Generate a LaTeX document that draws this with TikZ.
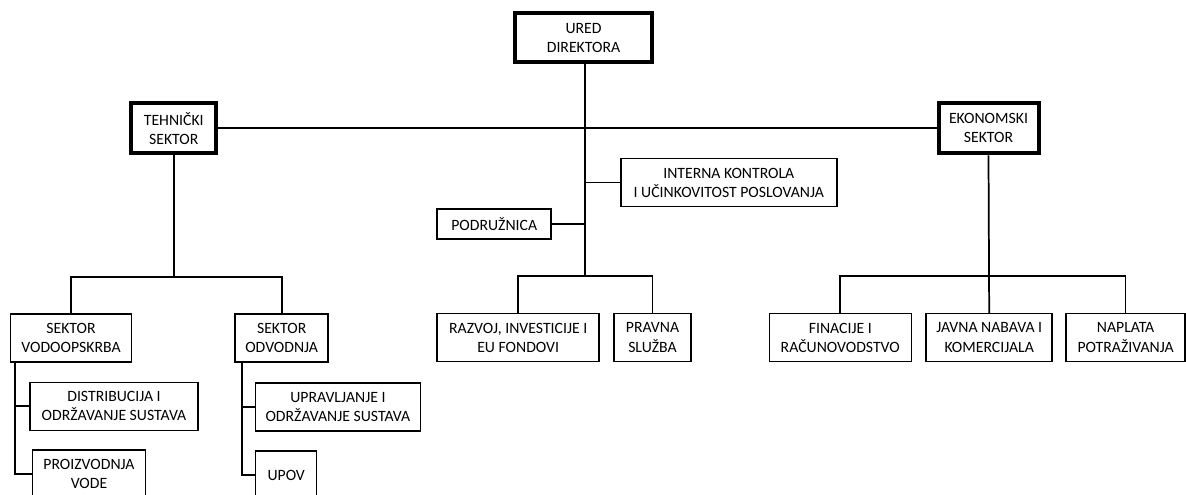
\documentclass[tikz,border=0pt]{standalone}
\usepackage{fontspec}
\setmainfont{Carlito}
\usepackage{tikz}
\tikzstyle{mybox}=[draw,line width=1.1pt,align=center,inner sep=0pt,minimum height=48*0.75pt]
\tikzstyle{mymainbox}=[mybox,line width=3pt,minimum height=49*0.75pt]
\tikzstyle{myline}=[line width=1.3pt]
\tikzstyle{mytrunk}=[line width=2pt]

\begin{document}
\begin{tikzpicture}[x=0.75pt,y=-0.75pt,font=\fontsize{11.8}{14.3}\selectfont]
		\clip (0,0) rectangle (1186,495);
		\fill[white] (0,0) rectangle (1186,495);

		\node[mymainbox,minimum width=137*0.75pt] (ured) at (583.5,37.8) {URED\\DIREKTORA};
		\node[mymainbox,minimum width=85*0.75pt,minimum height=50*0.75pt] (teh) at (173.8,128.3) {TEHNIČKI\\SEKTOR};
		\node[mymainbox,minimum width=100*0.75pt,minimum height=50*0.75pt] (eko) at (988.5,128.3) {EKONOMSKI\\SEKTOR};

		\node[mybox,minimum width=216*0.75pt] (interna) at (728.8,182.5) {INTERNA KONTROLA\\I UČINKOVITOST POSLOVANJA};
		\node[mybox,minimum width=114*0.75pt,minimum height=30*0.75pt] (podr) at (494.2,224.2) {PODRUŽNICA};

		\node[mybox,minimum width=121*0.75pt] (vodo) at (71,338) {SEKTOR\\VODOOPSKRBA};
		\node[mybox,minimum width=93*0.75pt] (odv) at (281.7,338) {SEKTOR\\ODVODNJA};
		\node[mybox,minimum width=168*0.75pt] (distr) at (114,406.3) {DISTRIBUCIJA I\\ODRŽAVANJE SUSTAVA};
		\node[mybox,minimum width=113*0.75pt] (proiz) at (89,474) {PROIZVODNJA\\VODE};
		\node[mybox,minimum width=165*0.75pt] (upr) at (337.9,407) {UPRAVLJANJE I\\ODRŽAVANJE SUSTAVA};
		\node[mybox,minimum width=61*0.75pt] (upov) at (286.2,475) {UPOV};

		\node[mybox,minimum width=162*0.75pt] (razvoj) at (518.2,337.5) {RAZVOJ, INVESTICIJE I\\EU FONDOVI};
		\node[mybox,minimum width=77*0.75pt] (pravna) at (652.5,337.5) {PRAVNA\\SLUŽBA};

		\node[mybox,minimum width=142*0.75pt] (fin) at (840.3,337.5) {FINACIJE I\\RAČUNOVODSTVO};
		\node[mybox,minimum width=126*0.75pt] (javna) at (989.2,337.5) {JAVNA NABAVA I\\KOMERCIJALA};
		\node[mybox,minimum width=119*0.75pt] (naplata) at (1125.6,337.5) {NAPLATA\\POTRAŽIVANJA};

		\coordinate (cbus) at (585,276);
		\coordinate (tbus) at (173.8,276.7);
		\coordinate (ebus) at (988.5,276);
		\coordinate (vs) at (15.3,361.7);
		\coordinate (os) at (241.9,361.7);

		\draw[mytrunk] (ured.south -| cbus) -- (cbus);
		\draw[myline] (teh.east) -- (eko.west);
		\draw[myline] (interna.west) -- (interna.west -| cbus);
		\draw[myline] (podr.east) -- (podr.east -| cbus);
		\draw[myline] (razvoj.north) |- (cbus) -| (pravna.north);

		\draw[myline] (teh.south) -- (tbus);
		\draw[myline] (vodo.north) |- (tbus) -| (odv.north);
		\draw[myline] (vs) |- (proiz.west);
		\draw[myline] (distr.west) -- (distr.west -| vs);
		\draw[myline] (os) |- (upov.west);
		\draw[myline] (upr.west) -- (upr.west -| os);

		\draw[myline] (eko.south) -- (javna.north);
		\draw[myline] (fin.north) |- (ebus) -| (naplata.north);
	\end{tikzpicture}
\end{document}
